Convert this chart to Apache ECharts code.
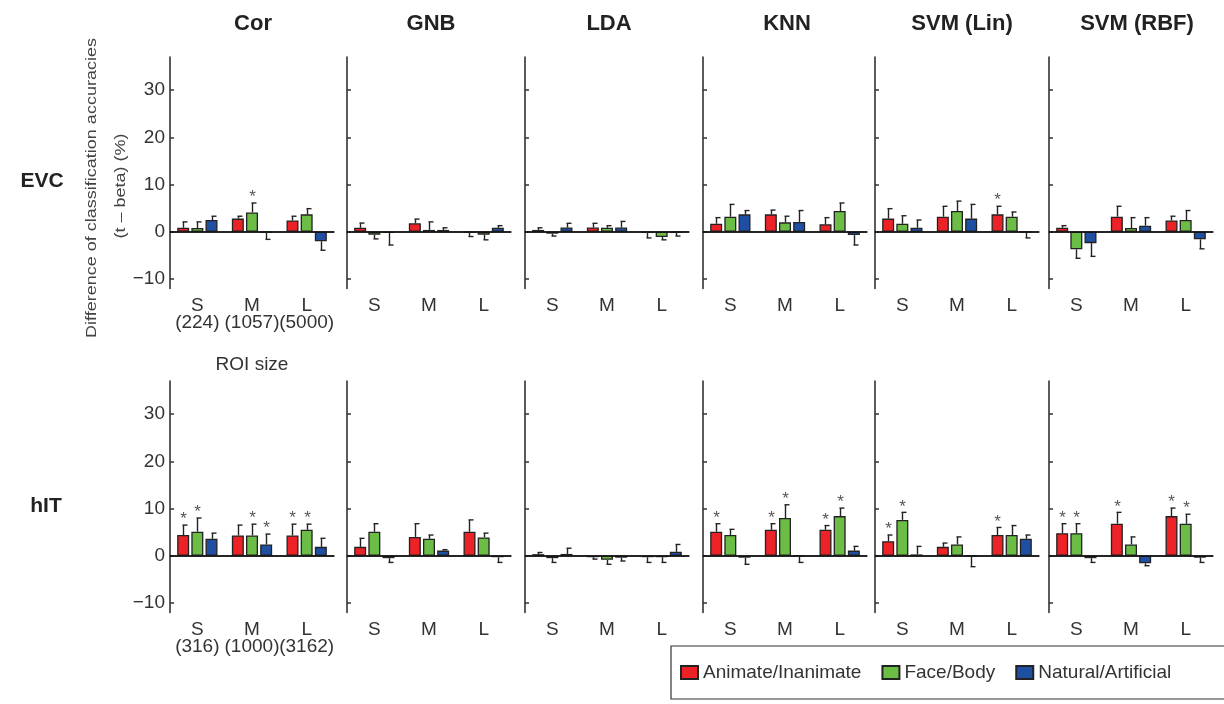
<!DOCTYPE html>
<html>
<head>
<meta charset="utf-8">
<script src="https://cdn.jsdelivr.net/npm/echarts@6/dist/echarts.min.js"></script>
<style>
  html, body { margin: 0; padding: 0; background: #fff; }
  #main { width: 1224px; height: 704px; }
</style>
</head>
<body>
<div id="main"></div>
<script>
/**
 * DATA
 */
var methods = ['Cor', 'GNB', 'LDA', 'KNN', 'SVM (Lin)', 'SVM (RBF)'];
var regions = ['EVC', 'hIT'];
var sizes = ['S', 'M', 'L'];
var roiEVC = ['(224)', '(1057)', '(5000)'];
var roiHIT = ['(316)', '(1000)', '(3162)'];
var contrasts = ['Animate/Inanimate', 'Face/Body', 'Natural/Artificial'];
var yTicks = [-10, 0, 10, 20, 30];

// one row per method, values for S, M, L
var evcAnimate = [[0.85, 2.8, 2.4], [0.85, 1.8, -0.1], [0.4, 0.9, -0.1], [1.7, 3.7, 1.6], [2.8, 3.2, 3.7], [0.85, 3.2, 2.4]];
var evcAnimateErr = [[1.25, 0.5, 0.9], [1.0, 0.9, 0.9], [0.45, 0.9, 1.2], [1.3, 0.9, 1.4], [2.1, 2.2, 1.7], [0.45, 2.2, 0.9]];
var evcFace = [[0.8, 4.1, 3.7], [-0.6, 0.4, -0.6], [-0.4, 0.85, -1.1], [3.2, 2.0, 4.4], [1.7, 4.4, 3.2], [-3.7, 0.8, 2.5]];
var evcFaceErr = [[1.3, 2.0, 1.2], [0.9, 1.7, 1.1], [0.5, 0.45, 0.6], [2.6, 1.3, 1.7], [1.7, 2.1, 1.0], [1.9, 2.2, 2.0]];
var evcNatural = [[2.5, -0.1, -2.0], [-0.2, 0.4, 0.85], [0.9, 0.9, -0.1], [3.7, 2.1, -0.7], [0.85, 2.8, -0.05], [-2.4, 1.3, -1.6]];
var evcNaturalErr = [[0.8, 1.5, 1.9], [2.6, 0.45, 0.45], [0.9, 1.3, 0.8], [0.8, 2.4, 2.1], [1.65, 3.0, 1.25], [2.8, 1.7, 2.0]];

var hitAnimate = [[4.4, 4.3, 4.3], [1.9, 4.0, 5.1], [0.35, -0.3, -0.3], [5.1, 5.5, 5.5], [3.1, 1.9, 4.4], [4.8, 6.8, 8.4]];
var hitAnimateErr = [[2.1, 2.2, 2.4], [1.8, 2.8, 2.5], [0.35, 0.4, 1.1], [1.7, 1.3, 0.9], [1.3, 0.8, 1.6], [2.0, 2.4, 1.7]];
var hitFace = [[5.1, 4.3, 5.5], [5.1, 3.6, 3.9], [-0.5, -0.85, -0.3], [4.4, 8.0, 8.4], [7.6, 2.4, 4.4], [4.8, 2.4, 6.8]];
var hitFaceErr = [[2.9, 2.4, 1.2], [1.7, 0.8, 0.9], [0.9, 0.95, 1.1], [1.2, 2.8, 1.7], [1.6, 1.6, 2.0], [2.0, 1.6, 2.0]];
var hitNatural = [[3.6, 2.4, 1.9], [-0.5, 1.1, -0.3], [0.4, -0.4, 0.85], [-0.4, -0.05, 1.1], [0.3, -0.05, 3.6], [-0.5, -1.6, -0.4]];
var hitNaturalErr = [[1.2, 2.2, 1.8], [0.9, 0.2, 1.1], [1.2, 0.7, 1.55], [1.4, 1.35, 0.9], [1.7, 2.25, 0.8], [0.9, 0.5, 1.0]];

// significant bars: [method, size, contrast]
var evcStars = [[0, 1, 1], [4, 2, 0]];
var hitStars = [[0, 0, 0], [0, 0, 1], [0, 1, 1], [0, 1, 2], [0, 2, 0], [0, 2, 1],
    [3, 0, 0], [3, 1, 0], [3, 1, 1], [3, 2, 0], [3, 2, 1],
    [4, 0, 0], [4, 0, 1], [4, 2, 0],
    [5, 0, 0], [5, 0, 1], [5, 1, 0], [5, 2, 0], [5, 2, 1]];

/**
 * CODE
 */
var FONT = '"Liberation Sans", Arial, Helvetica, sans-serif';
var colors = ['#ec2227', '#6cbd45', '#1f4fa3'];
var colLeft = [170, 347, 525, 703, 875, 1049];
var rowTop = [57, 381];
var titleX = [253, 431, 609, 787, 962, 1137];
var PW = 164, PH = 231.5;
var BAR_W = 12, BAR_STEP = 14.2;

var rowData = [
    {means: [evcAnimate, evcFace, evcNatural], errs: [evcAnimateErr, evcFaceErr, evcNaturalErr], stars: evcStars, roi: roiEVC},
    {means: [hitAnimate, hitFace, hitNatural], errs: [hitAnimateErr, hitFaceErr, hitNaturalErr], stars: hitStars, roi: roiHIT}
];

function isStar(stars, m, s, k) {
    for (var i = 0; i < stars.length; i++) {
        if (stars[i][0] == m && stars[i][1] == s && stars[i][2] == k) return 1;
    }
    return 0;
}

function renderErr(params, api) {
    var cat = api.value(0), mean = api.value(1), err = api.value(2), star = api.value(3), k = api.value(4);
    var end = mean >= 0 ? mean + err : mean - err;
    var p0 = api.coord([cat, mean]);
    var p1 = api.coord([cat, end]);
    var x = Math.round(p0[0] + (k - 1) * BAR_STEP) + 0.5;
    var children = [
        {type: 'line', shape: {x1: x, y1: p0[1], x2: x, y2: p1[1]}, style: {stroke: '#222', lineWidth: 1.4}},
        {type: 'line', shape: {x1: x - 1, y1: p1[1], x2: x + 4, y2: p1[1]}, style: {stroke: '#222', lineWidth: 1.4}}
    ];
    if (star) {
        children.push({
            type: 'text', x: x, y: p1[1] + 3,
            style: {text: '*', font: '17px ' + FONT, fill: '#555', align: 'center', verticalAlign: 'bottom'}
        });
    }
    return {type: 'group', children: children};
}

var grids = [], xAxes = [], yAxes = [], series = [];

for (var r = 0; r < 2; r++) {
    var rd = rowData[r];
    for (var c = 0; c < 6; c++) {
        var idx = r * 6 + c;
        grids.push({
            left: colLeft[c], top: rowTop[r], width: PW, height: PH,
            show: true, backgroundColor: '#fff', borderWidth: 0
        });

        var xAxis = {
            type: 'category', gridIndex: idx, data: sizes,
            axisLine: {lineStyle: {color: '#333', width: 1.6}},
            axisTick: {inside: true, alignWithLabel: true, length: 4, lineStyle: {color: '#333', width: 1.5}},
            axisLabel: {interval: 0, hideOverlap: false, fontSize: 19, color: '#333', margin: 9, lineHeight: 17, fontFamily: FONT}
        };
        if (c === 0) {
            xAxis.axisLabel.formatter = (function (roi) {
                return function (v, i) { return v + '\n' + roi[i]; };
            })(rd.roi);
        }
        if (idx === 0) {
            xAxis.name = 'ROI size';
            xAxis.nameLocation = 'middle';
            xAxis.nameGap = 67;
            xAxis.nameTextStyle = {fontSize: 19, color: '#333', fontFamily: FONT};
        }
        xAxes.push(xAxis);

        yAxes.push({
            type: 'value', gridIndex: idx, min: -12, max: 37,
            axisLine: {show: true, lineStyle: {color: '#333', width: 1.6}},
            axisTick: {show: true, inside: true, length: 4, customValues: yTicks, lineStyle: {color: '#333', width: 1.5}},
            axisLabel: {
                show: c === 0, customValues: yTicks, fontSize: 19, color: '#333', margin: 5, fontFamily: FONT,
                formatter: function (v) { return String(v).replace('-', '\u2212'); }
            },
            splitLine: {show: false}
        });

        var errData = [];
        for (var k = 0; k < 3; k++) {
            var bar = {
                type: 'bar', name: contrasts[k], xAxisIndex: idx, yAxisIndex: idx,
                data: rd.means[k][c], barWidth: BAR_W, barGap: '18%',
                itemStyle: {color: colors[k], borderColor: '#222', borderWidth: 1.3},
                animation: false
            };
            if (k === 0) {
                bar.markLine = {
                    silent: true, symbol: 'none', label: {show: false},
                    lineStyle: {color: '#111', width: 1.6, type: 'solid'},
                    data: [{yAxis: 0}], animation: false
                };
            }
            series.push(bar);
            for (var s = 0; s < 3; s++) {
                errData.push([s, rd.means[k][c][s], rd.errs[k][c][s], isStar(rd.stars, c, s, k), k]);
            }
        }
        series.push({
            type: 'custom', xAxisIndex: idx, yAxisIndex: idx, renderItem: renderErr,
            data: errData, encode: {x: 0, y: 1}, z: 5, animation: false, silent: true
        });
    }
}

var graphics = [];
for (var m = 0; m < methods.length; m++) {
    graphics.push({
        type: 'text', x: titleX[m], y: 24,
        style: {text: methods[m], font: 'bold 22px ' + FONT, fill: '#222', align: 'center', verticalAlign: 'middle'}
    });
}
graphics.push({type: 'text', x: 42, y: 181,
    style: {text: regions[0], font: 'bold 21px ' + FONT, fill: '#222', align: 'center', verticalAlign: 'middle'}});
graphics.push({type: 'text', x: 46, y: 506,
    style: {text: regions[1], font: 'bold 21px ' + FONT, fill: '#222', align: 'center', verticalAlign: 'middle'}});
graphics.push({type: 'text', x: 92, y: 188, rotation: Math.PI / 2, scaleY: 0.85,
    style: {text: 'Difference of classification accuracies', font: '18px ' + FONT, fill: '#444', align: 'center', verticalAlign: 'middle'}});
graphics.push({type: 'text', x: 121, y: 186, rotation: Math.PI / 2, scaleY: 0.85,
    style: {text: '(t \u2013 beta) (%)', font: '18px ' + FONT, fill: '#444', align: 'center', verticalAlign: 'middle'}});

var chart = echarts.init(document.getElementById('main'));
chart.setOption({
    animation: false,
    textStyle: {fontFamily: FONT},
    grid: grids,
    xAxis: xAxes,
    yAxis: yAxes,
    series: series,
    graphic: graphics,
    legend: {
        data: contrasts, left: 671, top: 646, width: 700, orient: 'horizontal',
        itemWidth: 17, itemHeight: 13, itemGap: 20, icon: 'rect',
        textStyle: {fontSize: 19, color: '#333', fontFamily: FONT},
        borderColor: '#333', borderWidth: 1.2, padding: [17, 60, 17, 9]
    }
});
</script>
</body>
</html>
